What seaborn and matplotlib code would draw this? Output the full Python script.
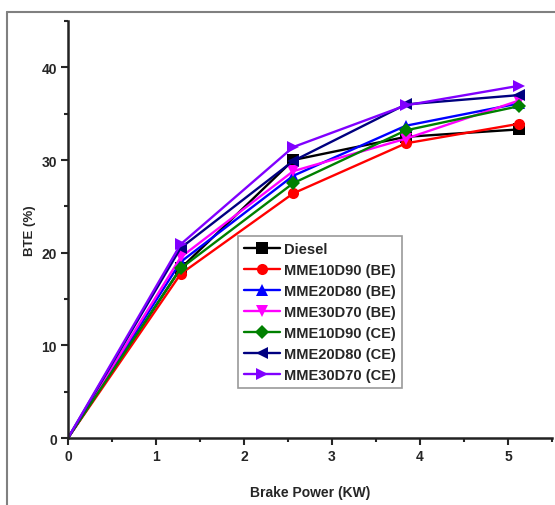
import numpy as np
import pandas as pd
import matplotlib
matplotlib.use("Agg")
import matplotlib.pyplot as plt
from matplotlib.ticker import MultipleLocator
import seaborn as sns

# Brake power (kW) load points
power = [0, 1.28, 2.56, 3.84, 5.12]

# BTE (%) for each fuel blend
diesel = [0, 18.3, 30.0, 32.5, 33.3]
mme10d90_be = [0, 17.7, 26.4, 31.8, 33.9]
mme20d80_be = [0, 19.0, 28.3, 33.7, 36.1]
mme30d70_be = [0, 19.5, 28.8, 32.3, 36.4]
mme10d90_ce = [0, 18.3, 27.5, 33.2, 35.8]
mme20d80_ce = [0, 20.5, 29.9, 36.0, 37.0]
mme30d70_ce = [0, 20.9, 31.4, 35.9, 38.0]

labels = ["Diesel", "MME10D90 (BE)", "MME20D80 (BE)", "MME30D70 (BE)",
          "MME10D90 (CE)", "MME20D80 (CE)", "MME30D70 (CE)"]
series = [diesel, mme10d90_be, mme20d80_be, mme30d70_be,
          mme10d90_ce, mme20d80_ce, mme30d70_ce]
colors = ["#000000", "#FF0000", "#0000FF", "#FF00FF", "#008000", "#000080", "#8000FF"]
markers = ["s", "o", "^", "v", "D", "<", ">"]

sns.set_style("ticks")
plt.rcParams["font.family"] = ["Liberation Sans", "DejaVu Sans"]
plt.rcParams["font.weight"] = "bold"

fig = plt.figure(figsize=(5.55, 5.06), dpi=100)
ax = fig.add_axes([0.1225, 0.1324, 0.872, 0.8241])

for lab, vals, col, mk in zip(labels, series, colors, markers):
    df = pd.DataFrame({"power": power, "bte": vals})
    ms = 7 if mk == "D" else 8
    sns.lineplot(data=df, x="power", y="bte", ax=ax, color=col, marker=mk,
                 markersize=ms, markeredgewidth=0, linewidth=1.7,
                 markevery=slice(1, None), label=lab)

ax.set_xlim(0, 5.5)
ax.set_ylim(0, 45)
ax.xaxis.set_major_locator(MultipleLocator(1))
ax.xaxis.set_minor_locator(MultipleLocator(0.5))
ax.yaxis.set_major_locator(MultipleLocator(10))
ax.yaxis.set_minor_locator(MultipleLocator(5))
ax.tick_params(which="major", direction="out", length=5, width=1.5, labelsize=10, pad=3)
ax.tick_params(which="minor", direction="out", length=3, width=1.5)
for lbl in ax.get_xticklabels() + ax.get_yticklabels():
    lbl.set_fontweight("bold")

sns.despine(ax=ax)
for s in ["left", "bottom"]:
    ax.spines[s].set_linewidth(1.8)
    ax.spines[s].set_color("#222222")

ax.set_xlabel("Brake Power (KW)", fontsize=10, fontweight="bold", labelpad=16)
ax.set_ylabel("BTE (%)", fontsize=9.5, fontweight="bold", labelpad=4)

leg = ax.legend(loc="lower left", bbox_to_anchor=(0.351, 0.12), fontsize=10.5,
                frameon=True, fancybox=False, edgecolor="#808080",
                handlelength=2.5, handletextpad=0.25, labelspacing=0.48,
                borderpad=0.4, borderaxespad=0)
leg.get_frame().set_linewidth(1.2)
for t in leg.get_texts():
    t.set_fontweight("bold")

# outer border (top and left edges of the original frame)
fig.add_artist(plt.Line2D([0.0126, 1.0], [0.974, 0.974], transform=fig.transFigure,
                          color="#808080", linewidth=1.5))
fig.add_artist(plt.Line2D([0.0126, 0.0126], [0.0, 0.974], transform=fig.transFigure,
                          color="#808080", linewidth=1.5))

fig.savefig("out.png", dpi=100)
